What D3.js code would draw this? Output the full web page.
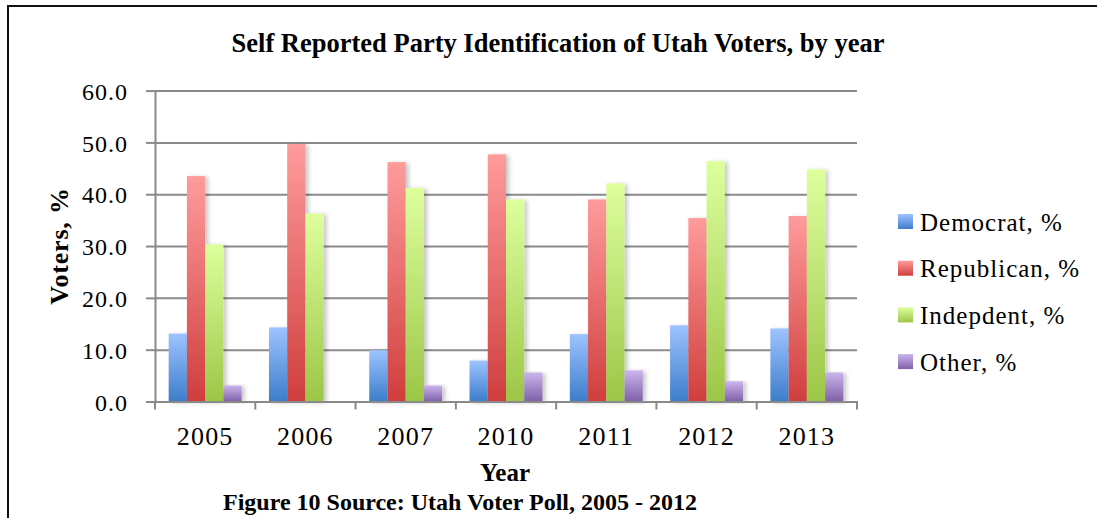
<!DOCTYPE html>
<html>
<head>
<meta charset="utf-8">
<script src="https://cdn.jsdelivr.net/npm/d3@7"></script>
<style>
  body { margin: 0; background: #fff; }
  .tick text { font-family: "Liberation Serif", serif; fill: #000; }
  .title, .xtitle, .caption { font-family: "Liberation Serif", "Times New Roman", serif; font-weight: bold; }
</style>
</head>
<body>
<div class="chart"></div>
<script>
// Self reported party identification, Utah voters
var years = ["2005", "2006", "2007", "2010", "2011", "2012", "2013"];
var seriesNames = ["Democrat, %", "Republican, %", "Indepdent, %", "Other, %"];
var democrat    = [13.1, 14.3, 9.9, 7.9, 13.0, 14.7, 14.1];
var republican  = [43.5, 49.7, 46.2, 47.7, 39.0, 35.4, 35.8];
var independent = [30.3, 36.3, 41.2, 39.0, 42.1, 46.4, 44.8];
var other       = [3.1, 0, 3.1, 5.6, 6.0, 3.9, 5.6];
var yTicks = [0, 10, 20, 30, 40, 50, 60];

var seriesValues = [democrat, republican, independent, other];
// top / bottom colours of each bar gradient
var gradTop = ["#9dc3ff", "#ff9b9b", "#ddff9d", "#cbb4ec"];
var gradBottom = ["#3d7dcb", "#d03e3e", "#9cc647", "#7f60a8"];

var svgWidth = 1097;
var svgHeight = 518;
var plot = { left: 155, right: 857, top: 90.6, bottom: 401.5 };

var svg = d3.select(".chart")
  .append("svg")
  .attr("width", svgWidth)
  .attr("height", svgHeight);

var defs = svg.append("defs");
seriesNames.forEach(function(name, i) {
  var g = defs.append("linearGradient")
    .attr("id", "grad" + i)
    .attr("x1", 0).attr("y1", 0).attr("x2", 0).attr("y2", 1);
  g.append("stop").attr("offset", "0%").attr("stop-color", gradTop[i]);
  g.append("stop").attr("offset", "100%").attr("stop-color", gradBottom[i]);
});
defs.append("filter")
  .attr("id", "shadow")
  .attr("x", "-20%").attr("y", "-5%").attr("width", "160%").attr("height", "115%")
  .append("feDropShadow")
  .attr("dx", 3).attr("dy", 1)
  .attr("stdDeviation", 2)
  .attr("flood-color", "#000")
  .attr("flood-opacity", 0.22);

// frame lines (top and left)
svg.append("line")
  .attr("x1", 7).attr("y1", 6).attr("x2", svgWidth).attr("y2", 6)
  .attr("stroke", "#111").attr("stroke-width", 2);
svg.append("line")
  .attr("x1", 8).attr("y1", 5).attr("x2", 8).attr("y2", svgHeight)
  .attr("stroke", "#111").attr("stroke-width", 2);

// scales
var xScale = d3.scaleBand()
  .domain(years)
  .range([plot.left, plot.right])
  .padding(0);

var xInner = d3.scaleBand()
  .domain(d3.range(seriesNames.length))
  .range([0, xScale.bandwidth()])
  .paddingInner(0)
  .paddingOuter(0.75);

var yScale = d3.scaleLinear()
  .domain([0, 60])
  .range([plot.bottom, plot.top]);

// gridlines
svg.append("g")
  .attr("transform", "translate(" + plot.left + ",0)")
  .call(d3.axisLeft(yScale).tickValues(yTicks).tickSize(-(plot.right - plot.left)).tickFormat(""))
  .call(function(g) {
    g.select(".domain").remove();
    g.selectAll(".tick line").attr("stroke", "#8a8a8a").attr("stroke-width", 2);
  });

// y axis
svg.append("g")
  .attr("transform", "translate(" + plot.left + ",0)")
  .call(d3.axisLeft(yScale).tickValues(yTicks).tickSizeInner(9).tickSizeOuter(0).tickPadding(18)
    .tickFormat(d3.format(".1f")))
  .call(function(g) {
    g.select(".domain").attr("stroke", "#8a8a8a").attr("stroke-width", 2);
    g.selectAll(".tick line").attr("stroke", "#8a8a8a").attr("stroke-width", 2);
    g.selectAll(".tick text").attr("font-size", 24).attr("letter-spacing", 1).attr("dy", "0.36em");
  });

// bars
var groups = svg.append("g")
  .selectAll("g")
  .data(years)
  .enter().append("g")
  .attr("transform", function(d) { return "translate(" + xScale(d) + ",0)"; });

groups.selectAll("rect")
  .data(function(d, yi) {
    return seriesValues.map(function(vals, si) { return { s: si, v: vals[yi] }; });
  })
  .enter().append("rect")
  .filter(function(d) { return d.v > 0; })
  .attr("x", function(d) { return xInner(d.s); })
  .attr("y", function(d) { return yScale(d.v); })
  .attr("width", xInner.bandwidth())
  .attr("height", function(d) { return yScale(0) - yScale(d.v); })
  .attr("fill", function(d) { return "url(#grad" + d.s + ")"; })
  .attr("filter", "url(#shadow)");

// x axis
var xAxisG = svg.append("g")
  .attr("transform", "translate(0," + plot.bottom + ")")
  .call(d3.axisBottom(xScale).tickSize(0).tickPadding(25))
  .call(function(g) {
    g.select(".domain").attr("stroke", "#8a8a8a").attr("stroke-width", 2);
    g.selectAll(".tick text").attr("font-size", 26).attr("letter-spacing", 1.2);
  });

var boundaries = years.map(function(d) { return xScale(d); }).concat([plot.right]);
xAxisG.selectAll(".sep")
  .data(boundaries)
  .enter().append("line")
  .attr("class", "sep")
  .attr("x1", function(d) { return d; })
  .attr("x2", function(d) { return d; })
  .attr("y1", 0).attr("y2", 8)
  .attr("stroke", "#8a8a8a").attr("stroke-width", 2);

// titles
svg.append("text")
  .attr("class", "title")
  .attr("x", 558).attr("y", 52)
  .attr("text-anchor", "middle")
  .attr("font-size", 26.5)
  .text("Self Reported Party Identification of Utah Voters, by year");

svg.append("text")
  .attr("transform", "translate(68,246) rotate(-90)")
  .attr("text-anchor", "middle")
  .attr("font-family", "Liberation Serif, serif")
  .attr("font-weight", "bold")
  .attr("font-size", 26)
  .attr("letter-spacing", 0.8)
  .text("Voters, %");

svg.append("text")
  .attr("class", "xtitle")
  .attr("x", 505).attr("y", 481)
  .attr("text-anchor", "middle")
  .attr("font-size", 25)
  .text("Year");

svg.append("text")
  .attr("class", "caption")
  .attr("x", 223).attr("y", 510)
  .attr("font-size", 24)
  .text("Figure 10 Source: Utah Voter Poll, 2005 - 2012");

// legend
var legend = svg.append("g")
  .selectAll("g")
  .data(seriesNames)
  .enter().append("g")
  .attr("transform", function(d, i) { return "translate(898," + (221.5 + i * 46.7) + ")"; });

legend.append("rect")
  .attr("x", 0).attr("y", -7.5)
  .attr("width", 15).attr("height", 15)
  .attr("fill", function(d, i) { return "url(#grad" + i + ")"; });

legend.append("text")
  .attr("x", 22).attr("y", 9)
  .attr("font-family", "Liberation Serif, serif")
  .attr("font-size", 25)
  .attr("letter-spacing", 1)
  .text(function(d) { return d; });
</script>
</body>
</html>
